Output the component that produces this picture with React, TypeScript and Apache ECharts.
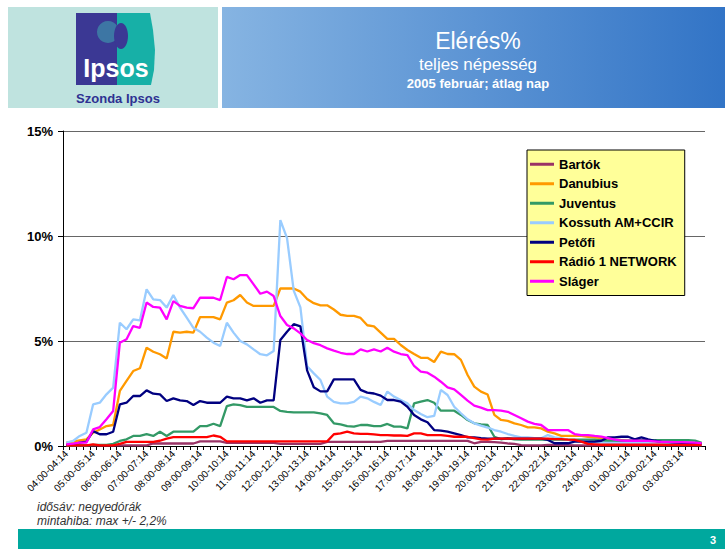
import React, { useEffect, useRef } from 'react';
import * as echarts from 'echarts';

const hourLabels = [
  '04:00-04:14', '05:00-05:14', '06:00-06:14', '07:00-07:14', '08:00-08:14', '09:00-09:14',
  '10:00-10:14', '11:00-11:14', '12:00-12:14', '13:00-13:14', '14:00-14:14', '15:00-15:14',
  '16:00-16:14', '17:00-17:14', '18:00-18:14', '19:00-19:14', '20:00-20:14', '21:00-21:14',
  '22:00-22:14', '23:00-23:14', '24:00-00:14', '01:00-01:14', '02:00-02:14', '03:00-03:14',
];
const quarterStarts = ['00', '15', '30', '45'];
const quarterEnds = ['14', '29', '44', '59'];

const seriesNames = ['Bartók', 'Danubius', 'Juventus', 'Kossuth AM+CCIR', 'Petőfi', 'Rádió 1 NETWORK', 'Sláger'];
const seriesColors = ['#993366', '#FF9900', '#339966', '#99CCFF', '#000080', '#FF0000', '#FF00FF'];

const bartok = [
  0.03, 0.03, 0.03, 0.03, 0.03, 0.03, 0.03, 0.03, 0.03, 0.03,
  0.03, 0.03, 0.03, 0.12, 0.12, 0.12, 0.12, 0.12, 0.12, 0.12,
  0.22, 0.22, 0.22, 0.22, 0.15, 0.15, 0.15, 0.15, 0.15, 0.15,
  0.15, 0.15, 0.1, 0.1, 0.1, 0.1, 0.1, 0.1, 0.1, 0.2,
  0.2, 0.2, 0.2, 0.2, 0.2, 0.2, 0.2, 0.2, 0.24, 0.24,
  0.24, 0.24, 0.24, 0.24, 0.24, 0.24, 0.24, 0.24, 0.24, 0.24,
  0.24, 0.13, 0.2, 0.2, 0.18, 0.16, 0.12, 0.1, 0.04, 0.03,
  0.03, 0.03, 0.05, 0.05, 0.04, 0.04, 0.03, 0.03, 0.03, 0.03,
  0.03, 0.03, 0.03, 0.03, 0.03, 0.03, 0.03, 0.03, 0.03, 0.03,
  0.03, 0.03, 0.03, 0.03, 0.03, 0.03,
];
const danubius = [
  0.16, 0.21, 0.27, 0.32, 0.63, 0.79, 0.95, 1.0, 2.62, 3.1,
  3.57, 3.7, 4.68, 4.49, 4.37, 4.17, 5.44, 5.4, 5.44, 5.4,
  6.14, 6.14, 6.14, 6.03, 6.83, 6.94, 7.19, 6.83, 6.67, 6.67,
  6.67, 6.67, 7.5, 7.5, 7.5, 7.35, 7.0, 6.8, 6.7, 6.7,
  6.5, 6.25, 6.2, 6.2, 6.1, 5.75, 5.7, 5.4, 5.1, 5.1,
  4.81, 4.57, 4.38, 4.2, 4.2, 4.0, 4.49, 4.38, 4.37, 4.1,
  3.38, 2.83, 2.59, 2.45, 1.48, 1.24, 1.2, 1.08, 1.0, 0.89,
  0.89, 0.84, 0.68, 0.6, 0.48, 0.48, 0.48, 0.48, 0.44, 0.41,
  0.38, 0.35, 0.3, 0.28, 0.25, 0.22, 0.2, 0.18, 0.16, 0.16,
  0.15, 0.15, 0.14, 0.14, 0.12, 0.1,
];
const juventus = [
  0.03, 0.03, 0.03, 0.03, 0.05, 0.05, 0.05, 0.1, 0.24, 0.32,
  0.48, 0.48, 0.56, 0.48, 0.68, 0.48, 0.68, 0.68, 0.68, 0.68,
  0.95, 0.95, 1.06, 0.95, 1.9, 1.98, 1.95, 1.86, 1.86, 1.86,
  1.86, 1.86, 1.67, 1.63, 1.6, 1.6, 1.6, 1.6, 1.55, 1.48,
  1.08, 1.03, 0.95, 0.92, 1.0, 1.0, 0.95, 0.95, 1.05, 0.92,
  0.92, 0.84, 2.03, 2.11, 2.19, 2.06, 1.68, 1.68, 1.68, 1.48,
  1.24, 1.08, 1.03, 1.0, 0.44, 0.32, 0.37, 0.32, 0.3, 0.3,
  0.3, 0.3, 0.3, 0.3, 0.3, 0.3, 0.3, 0.3, 0.3, 0.3,
  0.25, 0.25, 0.25, 0.25, 0.25, 0.28, 0.28, 0.28, 0.28, 0.28,
  0.28, 0.28, 0.28, 0.28, 0.26, 0.15,
];
const kossuth = [
  0.16, 0.24, 0.48, 0.63, 1.98, 2.06, 2.46, 2.78, 5.87, 5.56,
  6.03, 5.98, 7.46, 6.98, 6.95, 6.59, 7.19, 6.59, 6.11, 5.63,
  5.44, 5.16, 4.92, 4.76, 5.87, 5.4, 5.0, 4.84, 4.6, 4.37,
  4.32, 4.52, 10.76, 9.9, 7.4, 6.6, 3.8, 3.46, 3.14, 2.35,
  2.1, 2.03, 2.03, 2.1, 2.35, 2.27, 2.1, 1.95, 2.59, 2.35,
  2.19, 2.03, 1.71, 1.52, 1.37, 1.43, 2.67, 2.43, 1.87, 1.56,
  1.27, 1.08, 0.97, 0.88, 0.76, 0.68, 0.57, 0.48, 0.41, 0.41,
  0.37, 0.37, 0.52, 0.41, 0.37, 0.29, 0.25, 0.21, 0.21, 0.16,
  0.16, 0.15, 0.15, 0.14, 0.14, 0.14, 0.13, 0.13, 0.12, 0.12,
  0.12, 0.12, 0.11, 0.11, 0.1, 0.08,
];
const petofi = [
  0.05, 0.08, 0.16, 0.21, 0.71, 0.56, 0.56, 0.68, 1.98, 2.06,
  2.38, 2.38, 2.65, 2.49, 2.46, 2.14, 2.27, 2.17, 2.14, 1.95,
  2.14, 2.06, 2.06, 2.06, 2.35, 2.27, 2.27, 2.17, 2.27, 2.06,
  2.17, 2.17, 5.05, 5.44, 5.8, 5.7, 3.6, 2.8, 2.6, 2.6,
  3.17, 3.17, 3.17, 3.17, 2.67, 2.54, 2.5, 2.4, 2.19, 2.19,
  2.11, 1.87, 1.48, 1.27, 1.13, 0.76, 0.73, 0.68, 0.6, 0.52,
  0.41, 0.41, 0.37, 0.35, 0.35, 0.35, 0.35, 0.35, 0.35, 0.35,
  0.35, 0.35, 0.29, 0.13, 0.13, 0.13, 0.21, 0.21, 0.21, 0.21,
  0.25, 0.41, 0.41, 0.44, 0.44, 0.32, 0.41, 0.32, 0.25, 0.2,
  0.18, 0.16, 0.15, 0.15, 0.13, 0.1,
];
const radio1 = [
  0.03, 0.03, 0.03, 0.03, 0.08, 0.03, 0.03, 0.03, 0.1, 0.2,
  0.2, 0.2, 0.2, 0.2, 0.25, 0.35, 0.42, 0.42, 0.42, 0.42,
  0.42, 0.42, 0.5, 0.44, 0.22, 0.22, 0.22, 0.22, 0.22, 0.22,
  0.22, 0.22, 0.22, 0.22, 0.22, 0.22, 0.22, 0.22, 0.22, 0.22,
  0.56, 0.6, 0.68, 0.6, 0.58, 0.58, 0.55, 0.52, 0.52, 0.5,
  0.5, 0.48, 0.6, 0.6, 0.52, 0.52, 0.52, 0.48, 0.44, 0.44,
  0.44, 0.37, 0.32, 0.3, 0.35, 0.35, 0.35, 0.35, 0.35, 0.35,
  0.35, 0.35, 0.35, 0.33, 0.33, 0.3, 0.29, 0.21, 0.1, 0.08,
  0.06, 0.06, 0.06, 0.06, 0.06, 0.06, 0.06, 0.06, 0.06, 0.06,
  0.05, 0.05, 0.05, 0.05, 0.05, 0.05,
];
const slager = [
  0.08, 0.11, 0.16, 0.16, 0.79, 0.9, 1.27, 1.67, 4.92, 5.08,
  5.71, 5.63, 6.83, 6.62, 6.59, 6.03, 6.9, 6.67, 6.59, 6.56,
  7.06, 7.06, 7.06, 6.95, 8.05, 7.94, 8.14, 8.14, 7.7, 7.25,
  7.35, 7.14, 6.19, 5.76, 5.6, 5.36, 5.05, 4.9, 4.8, 4.65,
  4.54, 4.44, 4.38, 4.38, 4.6, 4.5, 4.6, 4.5, 4.68, 4.49,
  4.38, 4.33, 3.81, 3.54, 3.49, 3.3, 3.06, 2.79, 2.7, 2.43,
  2.16, 1.92, 1.83, 1.71, 1.71, 1.68, 1.63, 1.48, 1.32, 1.16,
  1.05, 1.0, 0.76, 0.76, 0.76, 0.76, 0.57, 0.52, 0.52, 0.48,
  0.45, 0.38, 0.3, 0.26, 0.25, 0.25, 0.25, 0.24, 0.22, 0.2,
  0.2, 0.18, 0.18, 0.17, 0.16, 0.14,
];
const seriesData = [bartok, danubius, juventus, kossuth, petofi, radio1, slager];

const yTicks = [0, 5, 10, 15];

const FONT = '"Liberation Sans", Arial, Helvetica, sans-serif';

function buildCategories(): string[] {
  const out: string[] = [];
  hourLabels.forEach((lab) => {
    const hh = lab.substring(0, 2);
    quarterStarts.forEach((qs, q) => {
      if (q === 0) out.push(lab);
      else out.push(hh + ':' + qs + '-' + hh + ':' + quarterEnds[q]);
    });
  });
  return out;
}

export default function App() {
  const ref = useRef<HTMLDivElement>(null);
  useEffect(() => {
    if (!ref.current) return;
    const chart = echarts.init(ref.current, undefined, { renderer: 'svg' });
    const categories = buildCategories();
    const option: any = {
      animation: false,
      backgroundColor: '#ffffff',
      textStyle: { fontFamily: FONT },
      grid: { left: 63, right: 20, top: 131, bottom: 103, containLabel: false },
      legend: {
        orient: 'vertical',
        left: 527,
        top: 150,
        backgroundColor: '#FFFF99',
        borderColor: '#000000',
        borderWidth: 1,
        borderRadius: 0,
        padding: [7, 8, 7, 3],
        itemWidth: 24,
        itemHeight: 3,
        itemGap: 5,
        itemStyle: { borderWidth: 0 },
        icon: 'rect',
        textStyle: { fontFamily: FONT, fontSize: 13, fontWeight: 'bold', color: '#000', lineHeight: 14.5 },
        data: seriesNames,
      },
      xAxis: {
        type: 'category',
        data: categories,
        boundaryGap: true,
        axisLine: { lineStyle: { color: '#000', width: 1 } },
        axisTick: { show: true, interval: 0, length: 4, lineStyle: { color: '#000' } },
        axisLabel: {
          interval: 3,
          rotate: 45,
          fontSize: 10,
          color: '#000',
          fontFamily: FONT,
          margin: 6,
        },
        splitLine: { show: false },
      },
      yAxis: {
        type: 'value',
        min: yTicks[0],
        max: yTicks[yTicks.length - 1],
        interval: 5,
        axisLine: { show: true, lineStyle: { color: '#000', width: 1 } },
        axisTick: { show: true, length: 5, lineStyle: { color: '#000' } },
        axisLabel: {
          formatter: '{value}%',
          fontSize: 13,
          fontWeight: 'bold',
          color: '#000',
          fontFamily: FONT,
          margin: 10,
        },
        splitLine: { show: true, lineStyle: { color: '#666666', width: 1 } },
      },
      series: seriesNames.map((name, i) => ({
        name,
        type: 'line',
        data: seriesData[i],
        symbol: 'none',
        lineStyle: { color: seriesColors[i], width: 2.3 },
        itemStyle: { color: seriesColors[i] },
      })),
      graphic: [
        {
          type: 'rect',
          shape: { x: 8, y: 7, width: 210, height: 101 },
          style: { fill: '#bfe3df' },
          silent: true,
        },
        {
          type: 'rect',
          shape: { x: 222, y: 7, width: 503, height: 101 },
          style: {
            fill: new echarts.graphic.LinearGradient(0, 0, 1, 0, [
              { offset: 0, color: '#86b4e2' },
              { offset: 1, color: '#3274c6' },
            ]),
          },
          silent: true,
        },
        {
          type: 'rect',
          shape: { x: 76, y: 13, width: 42, height: 72 },
          style: { fill: '#3b3894' },
          silent: true,
        },
        {
          type: 'polygon',
          shape: {
            points: [[117, 13], [150, 13], [153, 30], [155, 50], [154, 70], [151, 85], [117, 85]],
          },
          style: { fill: '#17b0a7' },
          silent: true,
        },
        {
          type: 'circle',
          shape: { cx: 108, cy: 32, r: 11 },
          style: { fill: '#3fa9b0', opacity: 0.55 },
          silent: true,
        },
        {
          type: 'ellipse',
          shape: { cx: 121, cy: 36, rx: 7, ry: 13 },
          style: { fill: '#3b3894' },
          silent: true,
        },
        {
          type: 'text',
          x: 116,
          y: 68,
          style: {
            text: 'Ipsos',
            fill: '#ffffff',
            font: 'bold 25px ' + FONT,
            textAlign: 'center',
            textVerticalAlign: 'middle',
          },
          silent: true,
        },
        {
          type: 'text',
          x: 118,
          y: 98,
          style: {
            text: 'Szonda Ipsos',
            fill: '#2e3192',
            font: 'bold 13px ' + FONT,
            textAlign: 'center',
            textVerticalAlign: 'middle',
          },
          silent: true,
        },
        {
          type: 'text',
          x: 478,
          y: 41,
          style: {
            text: 'Elérés%',
            fill: '#ffffff',
            font: '23px ' + FONT,
            textAlign: 'center',
            textVerticalAlign: 'middle',
          },
          silent: true,
        },
        {
          type: 'text',
          x: 478,
          y: 64,
          style: {
            text: 'teljes népesség',
            fill: '#ffffff',
            font: '17px ' + FONT,
            textAlign: 'center',
            textVerticalAlign: 'middle',
          },
          silent: true,
        },
        {
          type: 'text',
          x: 478,
          y: 83,
          style: {
            text: '2005 február; átlag nap',
            fill: '#ffffff',
            font: 'bold 13px ' + FONT,
            textAlign: 'center',
            textVerticalAlign: 'middle',
          },
          silent: true,
        },
        {
          type: 'text',
          x: 37,
          y: 507,
          style: {
            text: 'idősáv: negyedórák',
            fill: '#333333',
            font: 'italic 12px ' + FONT,
            textAlign: 'left',
            textVerticalAlign: 'middle',
          },
          silent: true,
        },
        {
          type: 'text',
          x: 37,
          y: 521,
          style: {
            text: 'mintahiba: max +/- 2,2%',
            fill: '#333333',
            font: 'italic 12px ' + FONT,
            textAlign: 'left',
            textVerticalAlign: 'middle',
          },
          silent: true,
        },
        {
          type: 'rect',
          shape: { x: 18, y: 529, width: 707, height: 20 },
          style: { fill: '#00a89e' },
          silent: true,
        },
        {
          type: 'text',
          x: 713,
          y: 540,
          style: {
            text: '3',
            fill: '#ffffff',
            font: 'bold 11px ' + FONT,
            textAlign: 'center',
            textVerticalAlign: 'middle',
          },
          silent: true,
        },
      ],
    };
    chart.setOption(option);
    return () => {
      chart.dispose();
    };
  }, []);
  return (
    <div
      ref={ref}
      style={{ position: 'absolute', left: 0, top: 0, width: 725, height: 549, background: '#fff' }}
    />
  );
}
